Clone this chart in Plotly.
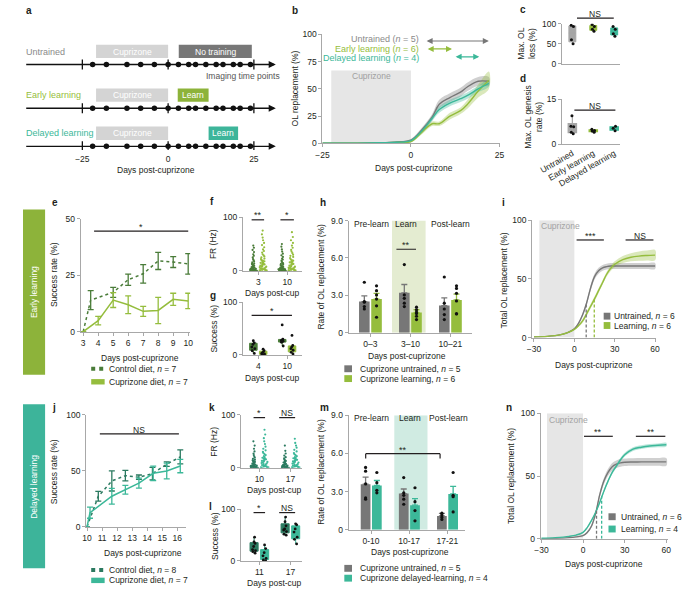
import plotly.graph_objects as go

# ======================= DATA =======================
# a: experimental timelines (days post-cuprizone)
A_GROUPS = ['Untrained', 'Early learning', 'Delayed learning']
A_IMAGING_DAYS = [-22, -18, -12, -8, -4, 0, 3, 6, 8, 11, 14, 16, 19, 21, 24]
A_CUPRIZONE = (-21, 0)
A_SECOND_PHASE = [(3.1, 24.4), (2.8, 11.8), (11.8, 20.4)]
A_SECOND_LABEL = ['No training', 'Learn', 'Learn']
A_TICKS = [-25, 0, 25]
A_MARK_DAYS = [-25, 0, 25]
A_TIMELINE = (-41.8, 31.4)

# b: OL replacement time course
B_DAYS = [-25, -22, -18, -12, -8, -4, 0, 3, 6, 8, 11, 14, 16, 19, 22]
B_UNTR = [0, 0, 0, 0.3, 0.6, 1.2, 3, 12, 24, 36, 42, 47, 52, 57, 57]
B_UNTR_SEM = [0, 0, 0, 0.2, 0.3, 0.5, 1, 2, 3, 4, 4, 4, 4, 4, 4]
B_EARLY = [0, 0, 0, 0.2, 0.5, 0.8, 1.5, 10, 18, 18, 25, 30, 36, 48, 58]
B_EARLY_SEM = [0, 0, 0, 0.2, 0.3, 0.4, 0.8, 2, 2, 2, 3, 3, 4, 6, 8]
B_DEL = [0, 0, 0, 0.3, 0.6, 1, 2.5, 11, 23, 31, 37, 41, 44, 50, 55]
B_DEL_SEM = [0, 0, 0, 0.2, 0.3, 0.4, 0.8, 2, 2.5, 3, 3, 3, 3, 3, 3]
B_CUP = (-22.5, 0, 67)
B_ARROWS = [(4, 22), (4.3, 11.6), (12.2, 19.3)]
B_ARROW_Y = [94, 86.7, 79.5]
B_LABELS = ['Untrained (<i>n</i> = 5)', 'Early learning (<i>n</i> = 6)', 'Delayed learning (<i>n</i> = 4)']

# c / d
CD_CATS = ['Untrained', 'Early learning', 'Delayed learning']
C_VALS = [[96, 93, 60, 50], [98, 93, 86, 81], [93, 86, 75, 69]]
D_VALS = [[9.5, 6.0, 5.8, 4.0, 3.5], [5.0, 4.6, 4.4, 4.0], [6.0, 5.3, 4.5]]

# e
E_CTRL_X = [3, 3.5, 5, 6, 7, 8, 9, 10]
E_CTRL_Y = [0, 14, 17.4, 23, 25.6, 31.3, 30.8, 30]
E_CTRL_ERR = [None, 4.2, 2.2, 2.5, 4.1, 3.8, 2.4, 4.5]
E_CUP_X = [3, 4, 5, 6, 7, 8, 9, 10]
E_CUP_Y = [0, 4.9, 14, 11.9, 9, 9.4, 14.3, 13.6]
E_CUP_ERR = [None, 1.9, 3.3, 3.9, 2.2, 5.8, 2.7, 3.4]

# f: firing rates (Hz)
F_CATS = ['3', '10']
F_CTRL = [
    [0, 0, 0, 0, 1, 1, 1, 1, 2, 2, 2, 2, 3, 3, 3, 4, 4, 4, 5, 5, 6, 6, 7, 7, 8, 9, 10, 11, 12, 13, 14, 16, 18, 20, 22, 25, 28, 31, 35, 39, 43, 47],
    [0, 0, 0, 0, 1, 1, 1, 1, 2, 2, 2, 2, 3, 3, 3, 3, 4, 4, 4, 5, 5, 5, 6, 6, 7, 7, 8, 9, 10, 11, 12, 13, 14, 15, 17, 19, 21, 23, 26, 29, 32, 36, 40, 45, 50]]
F_CUP = [
    [0, 0, 1, 1, 2, 2, 3, 3, 4, 4, 5, 5, 6, 7, 8, 8, 9, 10, 11, 12, 12, 13, 14, 15, 16, 17, 18, 19, 20, 22, 23, 25, 27, 29, 31, 34, 37, 40, 44, 48, 52, 57, 62, 68, 75],
    [0, 0, 1, 1, 2, 2, 3, 3, 4, 4, 5, 5, 6, 6, 7, 8, 9, 10, 11, 12, 13, 14, 15, 16, 17, 18, 19, 20, 22, 24, 26, 28, 30, 33, 36, 39, 43, 47, 52, 57, 63, 72]]

# g: success (%)
G_CATS = ['4', '10']
G_CTRL = [[27, 23, 20, 15, 12, 8, 3], [57, 30, 28, 27, 26, 24, 17]]
G_CUP = [[11, 8, 5, 3, 2, 1, 0], [37, 18, 15, 12, 9, 5, 2]]

# h
H_CATS = ['0–3', '3–10', '10–21']
H_UNTR = [2.5, 3.2, 2.18]
H_UNTR_SEM = [0.45, 0.67, 0.62]
H_LEARN = [2.7, 1.63, 2.63]
H_LEARN_SEM = [0.45, 0.21, 0.47]
H_UNTR_DOTS = [[4.05, 2.5, 2.45, 2.1, 1.9], [5.47, 3.03, 2.76, 2.37, 2.1], [4.47, 2.37, 1.9, 1.45, 1.05]]
H_LEARN_DOTS = [[3.76, 3.37, 3.03, 2.7, 2.16, 1.24], [2.05, 1.84, 1.66, 1.53, 1.32, 1.05], [3.76, 3.55, 3.16, 2.55, 1.53, 1.5]]
H_PHASES = ['Pre-learn', 'Learn', 'Post-learn']

# i
I_DAYS = [-30, -20, -10, -5, 0, 3, 6, 9, 12, 15, 18, 21, 24, 27, 30, 36, 42, 48, 54, 60]
I_UNTR = [0.5, 1, 2.5, 4.2, 7.5, 12, 19, 29, 42, 52, 57, 59.5, 60.5, 61, 61, 61, 61, 61, 61, 61]
I_UNTR_SEM = [0, 0, 0.2, 0.3, 0.5, 1, 1.5, 2, 2.5, 2.5, 2.5, 2.5, 2.5, 2.5, 2.5, 2.5, 2.5, 2.5, 2.5, 2.5]
I_LEARN = [0.5, 1, 2.5, 4.2, 7, 10, 14, 20, 26.5, 33, 40, 47, 54, 59, 62.5, 66.5, 68.5, 69.5, 70, 70.3]
I_LEARN_SEM = [0, 0, 0.2, 0.3, 0.5, 1, 1.5, 2, 2, 2, 2, 2, 2, 2.2, 2.5, 3, 3.5, 4, 4.2, 4.4]
I_HALF = [(8.8, 28), (14.8, 33.5)]

# j
J_CTRL_X = [10, 10.75, 11.65, 12.55, 13.45, 14.35, 15.3, 16.2]
J_CTRL_Y = [0, 27.3, 41, 45.7, 44.3, 47.5, 56, 62.5]
J_CTRL_ERR = [None, 4.4, 9, 4.7, 2, 5.6, 2, 6.3]
J_CUP_X = [10, 10.2, 11.65, 12.55, 13.45, 14.4, 15.3, 16.2]
J_CUP_Y = [0, 12.6, 27.3, 33.1, 39, 47.8, 49.9, 54.3]
J_CUP_ERR = [None, 5, 7, 4, 4.5, 6.5, 7, 6]

# k
K_CATS = ['10', '17']
K_CTRL = [
    [0, 0, 0, 0, 1, 1, 1, 1, 2, 2, 2, 2, 3, 3, 3, 4, 4, 4, 5, 5, 6, 6, 7, 8, 9, 10, 11, 12, 13, 14, 15, 17, 19, 21, 24, 27, 31, 36, 42, 50],
    [0, 0, 0, 0, 1, 1, 1, 1, 2, 2, 2, 3, 3, 3, 4, 4, 5, 5, 6, 6, 7, 8, 9, 10, 11, 12, 13, 14, 16, 18, 20, 23, 27, 32, 42]]
K_CUP = [
    [0, 0, 1, 1, 2, 2, 3, 3, 4, 5, 6, 7, 8, 9, 10, 11, 12, 13, 14, 15, 16, 17, 18, 19, 20, 22, 24, 26, 28, 30, 33, 36, 40, 45, 50, 56, 63, 72],
    [0, 0, 1, 1, 2, 2, 3, 3, 4, 4, 5, 6, 7, 8, 9, 10, 11, 12, 13, 14, 15, 16, 17, 18, 19, 20, 22, 24, 26, 28, 31, 34, 38, 42, 47, 55]]

# l
L_CATS = ['11', '17']
L_CTRL = [[46, 37, 34, 28, 22, 20, 18, 15], [85, 76, 68, 62, 60, 57, 52, 50]]
L_CUP = [[31, 24, 16, 10, 5, 2, 0], [72, 70, 62, 56, 46, 42, 33]]

# m
M_CATS = ['0-10', '10-17', '17-21']
M_UNTR = [3.58, 2.84, 1.08]
M_UNTR_SEM = [0.55, 0.36, 0.21]
M_LEARN = [3.48, 1.93, 2.81]
M_LEARN_SEM = [0.39, 0.52, 0.59]
M_UNTR_DOTS = [[4.9, 4.6, 3.6, 2.5, 2.4], [4.1, 2.9, 2.7, 2.4, 2.0], [1.3, 1.25, 1.1, 0.95, 0.8]]
M_LEARN_DOTS = [[4.5, 3.7, 3.1, 2.9], [3.3, 2.2, 1.5, 0.7], [4.5, 2.7, 2.6, 1.4]]

# n
N_DAYS = [-30, -20, -10, -5, 0, 3, 6, 9, 12, 15, 18, 21, 24, 27, 30, 36, 42, 48, 54, 60]
N_UNTR = [0.2, 0.4, 1, 1.6, 2.6, 5, 10, 20, 35, 46, 53, 57.5, 59.5, 60.5, 61, 61.2, 61.3, 61.3, 61.3, 61.3]
N_UNTR_SEM = [0, 0, 0.1, 0.2, 0.4, 0.8, 1.2, 1.8, 2.2, 2.5, 2.8, 3, 3, 3, 3, 3, 3, 3, 3, 3]
N_LEARN = [0.5, 1, 2, 3, 5.2, 9, 14.5, 21, 29, 38, 46, 53, 58, 63, 67, 71.5, 73, 74, 74.5, 75]
N_LEARN_SEM = [0, 0, 0.1, 0.2, 0.4, 0.6, 0.8, 1, 1.2, 1.3, 1.4, 1.5, 1.5, 1.5, 1.5, 1.5, 1.5, 1.5, 1.5, 1.5]
N_HALF = [(9.7, 23.5), (13.4, 34)]

# ======================= STYLE =======================
W, H = 685, 593
FONT = 'Liberation Sans, Arial, Helvetica, sans-serif'
TXT = '#231f20'
AX = '#a8a8a8'
GRAY = '#777777'
GRAY_LBL = '#8a8a8a'
LG = '#95bd3d'
DG = '#4a7c39'
TEAL = '#3cb899'
DTEAL = '#2b7a60'
CUPBOX = '#d4d4d4'
CUPSHADE = '#e6e6e6'
FS = 8.5
SHORT_DASH = '3px,2px'


def rgba(hexc, a):
    h = hexc.lstrip('#')
    return 'rgba(%d,%d,%d,%.2f)' % (int(h[0:2], 16), int(h[2:4], 16), int(h[4:6], 16), a)


fig = go.Figure()
shapes, annos, axes = [], [], {}


def xid(n):
    return 'x' if n == 1 else 'x%d' % n


def yid(n):
    return 'y' if n == 1 else 'y%d' % n


def add_axes(n, xpx, ypx, xr, yr, xopt=None, yopt=None):
    base = dict(showline=True, linecolor=AX, linewidth=1, ticks='outside', ticklen=3, tickwidth=1,
                tickcolor=AX, tickfont=dict(size=FS, color=TXT, family=FONT), showgrid=False,
                zeroline=False, fixedrange=True, ticklabelstandoff=0)
    xa = dict(base, domain=[xpx[0] / W, xpx[1] / W], range=xr, anchor=yid(n))
    ya = dict(base, domain=[1 - ypx[1] / H, 1 - ypx[0] / H], range=yr, anchor=xid(n))
    xa.update(xopt or {})
    ya.update(yopt or {})
    axes['xaxis' if n == 1 else 'xaxis%d' % n] = xa
    axes['yaxis' if n == 1 else 'yaxis%d' % n] = ya


def txt(px, py, s, size=FS, color=TXT, xanchor='center', yanchor='middle', angle=0, bold=False):
    if bold:
        s = '<b>%s</b>' % s
    annos.append(dict(x=px / W, y=1 - py / H, xref='paper', yref='paper', text=s, showarrow=False,
                      font=dict(size=size, color=color, family=FONT), xanchor=xanchor,
                      yanchor=yanchor, textangle=angle, borderpad=0))


def dtxt(n, x, y, s, size=FS, color=TXT, xanchor='center', yanchor='middle'):
    annos.append(dict(x=x, y=y, xref=xid(n), yref=yid(n), text=s, showarrow=False,
                      font=dict(size=size, color=color, family=FONT), xanchor=xanchor,
                      yanchor=yanchor, borderpad=0))


def hline(x0, x1, y, color=TXT, width=1.2):
    shapes.append(dict(type='line', xref='paper', yref='paper', x0=x0 / W, x1=x1 / W,
                       y0=1 - y / H, y1=1 - y / H, line=dict(color=color, width=width)))


def rect(x0, x1, y0, y1, color):
    shapes.append(dict(type='rect', xref='paper', yref='paper', x0=x0 / W, x1=x1 / W,
                       y0=1 - y1 / H, y1=1 - y0 / H, fillcolor=color, line=dict(width=0)))


def drect(n, x0, x1, y0, y1, color, layer='below'):
    shapes.append(dict(type='rect', xref=xid(n), yref=yid(n), x0=x0, x1=x1, y0=y0, y1=y1,
                       fillcolor=color, line=dict(width=0), layer=layer))


def dline(n, x0, x1, y0, y1, color, width=1.2, dash='solid'):
    shapes.append(dict(type='line', xref=xid(n), yref=yid(n), x0=x0, x1=x1, y0=y0, y1=y1,
                       line=dict(color=color, width=width, dash=dash)))


def sig(x0, x1, y, label, size=9):
    hline(x0, x1, y)
    txt((x0 + x1) / 2, y - 4.5, label, size=size)


def band(n, xs, mid, err, color, shape='spline'):
    up = [m + e for m, e in zip(mid, err)]
    lo = [m - e for m, e in zip(mid, err)]
    fig.add_trace(go.Scatter(x=list(xs) + list(xs)[::-1], y=up + lo[::-1], fill='toself',
                             fillcolor=color, mode='lines', line=dict(width=0, shape=shape),
                             xaxis=xid(n), yaxis=yid(n), hoverinfo='skip'))


def line(n, xs, ys, color, width=1.4, dash='solid', shape='spline'):
    fig.add_trace(go.Scatter(x=xs, y=ys, mode='lines', line=dict(color=color, width=width, dash=dash, shape=shape),
                             xaxis=xid(n), yaxis=yid(n), hoverinfo='skip'))


# ======================= PANEL a =======================
A_ROWS = [60.5, 105, 143.7]
A_ROW_COLORS = [GRAY_LBL, LG, TEAL]
A_SECOND_COLORS = ['#777777', '#8db33a', '#3db59a']
add_axes(1, (0, 265), (0, 147.5), [-42.3, 31.9], [147.5, 0],
         xopt=dict(showline=False, ticks='', tickvals=A_TICKS, ticklabelstandoff=2), yopt=dict(visible=False))
for r, (grp, ry) in enumerate(zip(A_GROUPS, A_ROWS)):
    annos.append(dict(x=A_TIMELINE[1], y=ry, ax=A_TIMELINE[0], ay=ry, xref='x', yref='y', axref='x', ayref='y',
                      text='', showarrow=True, arrowhead=2, arrowsize=1.1, arrowwidth=1.3, arrowcolor='#111',
                      standoff=0))
    for d in A_MARK_DAYS:
        dline(1, d, d, ry - 5, ry + 5, '#111', width=1.3)
    fig.add_trace(go.Scatter(x=A_IMAGING_DAYS, y=[ry] * len(A_IMAGING_DAYS), mode='markers',
                             marker=dict(color='#111', size=5.5), xaxis='x', yaxis='y', hoverinfo='skip'))
    drect(1, A_CUPRIZONE[0], A_CUPRIZONE[1], ry - 20, ry - 6.5, CUPBOX, layer='above')
    dtxt(1, (A_CUPRIZONE[0] + A_CUPRIZONE[1]) / 2, ry - 13.2, 'Cuprizone', color='white')
    s0, s1 = A_SECOND_PHASE[r]
    drect(1, s0, s1, ry - 20, ry - 6.5, A_SECOND_COLORS[r], layer='above')
    dtxt(1, (s0 + s1) / 2, ry - 13.2, A_SECOND_LABEL[r], color='white')
    txt(2, ry - 7, grp, color=A_ROW_COLORS[r], xanchor='left', yanchor='bottom', size=9)
txt(189, 72, 'Imaging time points', color='#555555', xanchor='left')
txt(138, 168, 'Days post-cuprizone')
txt(2, 6, 'a', size=10, bold=True, xanchor='left')

# ======================= PANEL b =======================
add_axes(2, (311.7, 497), (30, 140.7), [-25, 25.27], [0, 100],
         xopt=dict(tickvals=[-25, 0, 25]), yopt=dict(tickvals=[0, 25, 50, 75, 100]))
drect(2, B_CUP[0], B_CUP[1], 0, B_CUP[2], CUPSHADE)
dtxt(2, (B_CUP[0] + B_CUP[1]) / 2, B_CUP[2] - 5, 'Cuprizone', color='#a0a0a0')
band(2, B_DAYS, B_UNTR, B_UNTR_SEM, rgba(GRAY, 0.35))
band(2, B_DAYS, B_EARLY, B_EARLY_SEM, rgba(LG, 0.35))
band(2, B_DAYS, B_DEL, B_DEL_SEM, rgba(TEAL, 0.35))
line(2, B_DAYS, B_UNTR, GRAY)
line(2, B_DAYS, B_EARLY, LG)
line(2, B_DAYS, B_DEL, TEAL)
for (a0, a1), ay, col in zip(B_ARROWS, B_ARROW_Y, [GRAY, LG, TEAL]):
    annos.append(dict(x=a1, y=ay, ax=a0, ay=ay, xref='x2', yref='y2', axref='x2', ayref='y2', text='',
                      showarrow=True, arrowhead=2, arrowside='end+start', arrowsize=1, arrowwidth=1.2,
                      arrowcolor=col, standoff=0, startstandoff=0))
for py, col, lab in zip([35, 45, 54.3], [GRAY_LBL, LG, TEAL], B_LABELS):
    txt(413, py, lab, color=col, xanchor='right', size=9)
txt(283, 85, 'OL replacement (%)', angle=-90)
txt(406.7, 166, 'Days post-cuprizone')
txt(279, 6, 'b', size=10, bold=True, xanchor='left')

# ======================= PANEL c / d =======================
CD_COLORS = ['#a6a6a6', LG, TEAL]
add_axes(3, (561, 622), (19, 60), [-0.5, 2.3], [0, 100],
         xopt=dict(showticklabels=False, ticks='', tickvals=[0, 1, 2]), yopt=dict(tickvals=[0, 50, 100]))
add_axes(4, (561, 622), (95.7, 141.7), [-0.5, 2.3], [0, 15],
         xopt=dict(tickvals=[0, 1, 2], ticktext=CD_CATS, tickangle=-30, ticks=''),
         yopt=dict(tickvals=[0, 15]))
for i, (vals, col) in enumerate(zip(C_VALS, CD_COLORS)):
    fig.add_trace(go.Box(y=vals, x=[i] * len(vals), xaxis='x3', yaxis='y3', width=0.33, fillcolor=col,
                         line=dict(color=col, width=1), boxpoints='all', jitter=0.4, pointpos=0,
                         whiskerwidth=0, marker=dict(color='#111', size=3), hoverinfo='skip'))
for i, (vals, col) in enumerate(zip(D_VALS, CD_COLORS)):
    fig.add_trace(go.Box(y=vals, x=[i] * len(vals), xaxis='x4', yaxis='y4', width=0.4, fillcolor=col,
                         line=dict(color=col, width=1.2), boxpoints='all', jitter=0.4, pointpos=0,
                         whiskerwidth=0, marker=dict(color='#111', size=3), hoverinfo='skip'))
sig(576.7, 615, 13.3, 'NS', size=FS)
sig(574, 616.7, 107, 'NS', size=FS)
txt(524.5, 39.5, 'Max. OL<br>loss (%)', angle=-90)
txt(530.5, 114, 'Max. OL genesis<br>rate (%)', angle=-90)
txt(516, 5, 'c', size=10, bold=True, xanchor='left')
txt(516, 75, 'd', size=10, bold=True, xanchor='left')

# ======================= PANEL e =======================
add_axes(5, (60, 174), (217.3, 332.3), [2.83, 10.13], [0, 50],
         xopt=dict(tickvals=list(range(3, 11))), yopt=dict(tickvals=[0, 25, 50]))
fig.add_trace(go.Scatter(x=E_CTRL_X, y=E_CTRL_Y, mode='lines', line=dict(color=DG, width=1.5, dash='dot'),
                         error_y=dict(type='data', array=E_CTRL_ERR, color=DG, thickness=1.3, width=3),
                         xaxis='x5', yaxis='y5', hoverinfo='skip'))
fig.add_trace(go.Scatter(x=E_CUP_X, y=E_CUP_Y, mode='lines', line=dict(color=LG, width=1.5),
                         error_y=dict(type='data', array=E_CUP_ERR, color=LG, thickness=1.3, width=3),
                         xaxis='x5', yaxis='y5', hoverinfo='skip'))
sig(74, 172, 230, '*')
txt(33, 274, 'Success rate (%)', angle=-90)
txt(122, 359, 'Days post-cuprizone')
shapes.append(dict(type='line', xref='paper', yref='paper', x0=71 / W, x1=85 / W, y0=1 - 370 / H, y1=1 - 370 / H,
                   line=dict(color=DG, width=4, dash='dot')))
rect(71, 85, 380.5, 386, LG)
txt(88, 370, 'Control diet, <i>n</i> = 7', xanchor='left')
txt(88, 383.3, 'Cuprizone diet, <i>n</i> = 7', xanchor='left')
txt(29, 200.5, 'e', size=10, bold=True, xanchor='left')

# side bands
rect(0, 23, 208, 376, '#8db33a')
txt(11.5, 292, 'Early learning', color='white', angle=-90)
rect(0, 23, 406, 573, '#3db49a')
txt(11.5, 490, 'Delayed learning', color='white', angle=-90)


# ======================= PANELS f / g / k / l =======================
def swarm(n, groups, color, off):
    for i, vals in enumerate(groups):
        fig.add_trace(go.Box(y=vals, x=[i + off] * len(vals), xaxis=xid(n), yaxis=yid(n), width=0.32,
                             fillcolor='rgba(0,0,0,0)', line=dict(color='rgba(0,0,0,0)', width=0.1),
                             boxpoints='all', jitter=1, pointpos=0, marker=dict(color=color, size=2.2),
                             hoverinfo='skip'))


def boxes(n, groups, color, off):
    for i, vals in enumerate(groups):
        fig.add_trace(go.Box(y=vals, x=[i + off] * len(vals), xaxis=xid(n), yaxis=yid(n), width=0.26,
                             fillcolor=color, line=dict(color=color, width=1), whiskerwidth=0,
                             boxpoints='all', jitter=0.5, pointpos=0, marker=dict(color='#111', size=2.8),
                             hoverinfo='skip'))


FG_X = [-0.53, 1.5]
add_axes(6, (229, 290), (215.7, 270.5), FG_X, [0, 100],
         xopt=dict(tickvals=[0, 1], ticktext=F_CATS), yopt=dict(tickvals=[0, 100]))
swarm(6, F_CTRL, DG, -0.17)
swarm(6, F_CUP, LG, 0.17)
sig(238, 251, 218.5, '**')
sig(268, 282, 218.5, '*')
txt(198, 243, 'FR (Hz)', angle=-90)
txt(260, 293, 'Days post-cup')
txt(194, 199.7, 'f', size=10, bold=True, xanchor='left')

add_axes(7, (229, 290), (302.3, 356), FG_X, [0, 100],
         xopt=dict(tickvals=[0, 1], ticktext=G_CATS), yopt=dict(tickvals=[0, 100]))
boxes(7, G_CTRL, DG, -0.17)
boxes(7, G_CUP, LG, 0.17)
sig(238, 280, 315.7, '*')
txt(199, 329, 'Success (%)', angle=-90)
txt(260, 379, 'Days post-cup')
txt(194, 295, 'g', size=10, bold=True, xanchor='left')

KL_X = [-0.59, 1.36]
add_axes(11, (227, 290), (417, 470.7), KL_X, [0, 100],
         xopt=dict(tickvals=[0, 1], ticktext=K_CATS), yopt=dict(tickvals=[0, 100]))
swarm(11, K_CTRL, DTEAL, -0.17)
swarm(11, K_CUP, TEAL, 0.17)
sig(240, 252, 419.7, '*')
sig(266.7, 283.3, 419.7, 'NS', size=FS)
txt(198, 444, 'FR (Hz)', angle=-90)
txt(262, 493.5, 'Days post-cup')
txt(193, 409, 'k', size=10, bold=True, xanchor='left')

add_axes(12, (227, 290), (513, 565.5), KL_X, [0, 100],
         xopt=dict(tickvals=[0, 1], ticktext=L_CATS), yopt=dict(tickvals=[0, 100]))
boxes(12, L_CTRL, DTEAL, -0.17)
boxes(12, L_CUP, TEAL, 0.17)
sig(240, 252, 516.3, '*')
sig(266.7, 283.3, 516.3, 'NS', size=FS)
txt(200, 540, 'Success (%)', angle=-90)
txt(262, 588, 'Days post-cup')
txt(193, 510, 'l', size=10, bold=True, xanchor='left')


# ======================= PANELS h / m =======================
def barpanel(n, means_a, sem_a, dots_a, means_b, sem_b, dots_b, col_b, off_a, off_b, bw):
    for means, sem, dots, col, off in [(means_a, sem_a, dots_a, GRAY, off_a), (means_b, sem_b, dots_b, col_b, off_b)]:
        fig.add_trace(go.Bar(x=[0, 1, 2], y=means, width=bw, offset=off, marker=dict(color=col, line=dict(width=0)),
                             error_y=dict(type='data', array=sem, arrayminus=[0] * len(sem), symmetric=False,
                                          color=col, thickness=1.3, width=3),
                             xaxis=xid(n), yaxis=yid(n), hoverinfo='skip'))
        xs, ys = [], []
        for g, dd in enumerate(dots):
            xs += [g + off + bw / 2] * len(dd)
            ys += dd
        fig.add_trace(go.Scatter(x=xs, y=ys, mode='markers', marker=dict(color='#111', size=3.2),
                                 xaxis=xid(n), yaxis=yid(n), hoverinfo='skip'))


add_axes(8, (339, 467), (219.3, 333.3), [-0.545, 2.53], [0, 9],
         xopt=dict(tickvals=[0, 1, 2], ticktext=H_CATS),
         yopt=dict(tickvals=[0, 3, 6, 9], ticktext=['0', '3.0', '6.0', '9.0']))
drect(8, 0.54, 1.38, 0, 9, '#e4ecd1')
barpanel(8, H_UNTR, H_UNTR_SEM, H_UNTR_DOTS, H_LEARN, H_LEARN_SEM, H_LEARN_DOTS, LG, -0.285, 0.02, 0.265)
for gx, lab in zip([0.03, 0.9, 2.0], H_PHASES):
    dtxt(8, gx, 8.75, lab)
dline(8, 0.65, 1.14, 6.7, 6.7, TXT)
dtxt(8, 0.895, 7.05, '**', size=9)
txt(310, 276.5, 'Rate of OL replacement (%)', angle=-90)
txt(400, 357, 'Days post-cuprizone')
rect(334.5, 342.5, 366.5, 373.5, GRAY)
rect(334.5, 342.5, 376.5, 383.5, LG)
txt(350, 370, 'Cuprizone untrained, <i>n</i> = 5', xanchor='left')
txt(350, 380, 'Cuprizone learning, <i>n</i> = 6', xanchor='left')
txt(308, 201, 'h', size=10, bold=True, xanchor='left')

add_axes(13, (339, 460), (417.3, 533.7), [-0.587, 2.46], [0, 9],
         xopt=dict(tickvals=[0, 1, 2], ticktext=M_CATS),
         yopt=dict(tickvals=[0, 3, 6, 9], ticktext=['0', '3.0', '6.0', '9.0']))
drect(13, 0.61, 1.48, 0, 9, '#d0ebe2')
barpanel(13, M_UNTR, M_UNTR_SEM, M_UNTR_DOTS, M_LEARN, M_LEARN_SEM, M_LEARN_DOTS, TEAL, -0.27, 0.025, 0.255)
for gx, lab in zip([0.01, 1.03, 2.04], H_PHASES):
    dtxt(13, gx, 8.77, lab)
dline(13, -0.14, 1.81, 5.98, 5.98, TXT)
dline(13, -0.14, -0.14, 5.98, 5.6, TXT)
dline(13, 1.81, 1.81, 5.98, 5.6, TXT)
dtxt(13, 0.83, 6.3, '**', size=9)
txt(310, 475, 'Rate of OL replacement (%)', angle=-90)
txt(403.3, 556.5, 'Days post-cuprizone')
rect(334.5, 342.5, 569.5, 576.5, GRAY)
rect(334.5, 342.5, 579.5, 586.5, TEAL)
txt(350, 573, 'Cuprizone untrained, <i>n</i> = 5', xanchor='left')
txt(350, 583, 'Cuprizone delayed-learning, <i>n</i> = 4', xanchor='left')
txt(308, 409, 'm', size=10, bold=True, xanchor='left')


# ======================= PANELS i / n =======================
def sigmoid_panel(n, days, untr, untr_sem, learn, learn_sem, col, half):
    drect(n, -26, 0, 0, 100, CUPSHADE)
    dtxt(n, -25.5, 95, 'Cuprizone', color='#a3a3a3', xanchor='left')
    band(n, days, untr, untr_sem, rgba(GRAY, 0.35))
    band(n, days, learn, learn_sem, rgba(col, 0.35))
    line(n, days, untr, GRAY, width=1.4)
    line(n, days, learn, col, width=1.4)
    for (hx, hy), c in zip(half, [GRAY, col]):
        dline(n, hx, hx, 0, hy, c, width=1.3, dash=SHORT_DASH)


add_axes(9, (530, 659), (219, 338.3), [-31.4, 60.7], [0, 100],
         xopt=dict(tickvals=[-30, 0, 30, 60]), yopt=dict(tickvals=[0, 50, 100]))
sigmoid_panel(9, I_DAYS, I_UNTR, I_UNTR_SEM, I_LEARN, I_LEARN_SEM, LG, I_HALF)
sig(576.3, 604.7, 239, '***')
sig(627.3, 656.3, 239, 'NS', size=FS)
rect(604.5, 611.5, 313, 320, GRAY)
rect(604.5, 611.5, 322.5, 329.5, LG)
txt(614, 316.5, 'Untrained, <i>n</i> = 6', xanchor='left')
txt(614, 326, 'Learning, <i>n</i> = 6', xanchor='left')
txt(501, 280, 'Total OL replacement (%)', angle=-90)
txt(594.7, 366, 'Days post-cuprizone')
txt(498, 201, 'i', size=10, bold=True, xanchor='left')

add_axes(14, (539, 671), (415.3, 543), [-30.5, 60.9], [0, 100],
         xopt=dict(tickvals=[-30, 0, 30, 60]), yopt=dict(tickvals=[0, 50, 100]))
sigmoid_panel(14, N_DAYS, N_UNTR, N_UNTR_SEM, N_LEARN, N_LEARN_SEM, TEAL, N_HALF)
sig(584, 614, 438.7, '**')
sig(638, 668.7, 438.7, '**')
rect(609.5, 617, 517, 524, GRAY)
rect(609.5, 617, 529.5, 536.5, TEAL)
txt(622, 520.7, 'Untrained, <i>n</i> = 6', xanchor='left')
txt(622, 533, 'Learning, <i>n</i> = 4', xanchor='left')
txt(508, 479, 'Total OL replacement (%)', angle=-90)
txt(604.7, 568.5, 'Days post-cuprizone')
txt(502, 409, 'n', size=10, bold=True, xanchor='left')

# ======================= PANEL j =======================
add_axes(10, (65.7, 170), (417, 530.7), [9.94, 16.6], [0, 100],
         xopt=dict(tickvals=list(range(10, 17))), yopt=dict(tickvals=[0, 50, 100]))
fig.add_trace(go.Scatter(x=J_CTRL_X, y=J_CTRL_Y, mode='lines', line=dict(color=DTEAL, width=1.5, dash='dot'),
                         error_y=dict(type='data', array=J_CTRL_ERR, color=DTEAL, thickness=1.3, width=3),
                         xaxis='x10', yaxis='y10', hoverinfo='skip'))
fig.add_trace(go.Scatter(x=J_CUP_X, y=J_CUP_Y, mode='lines', line=dict(color=TEAL, width=1.5),
                         error_y=dict(type='data', array=J_CUP_ERR, color=TEAL, thickness=1.3, width=3),
                         xaxis='x10', yaxis='y10', hoverinfo='skip'))
sig(80, 162.3, 436.3, 'NS', size=FS)
txt(33, 474.5, 'Success rate (%)', angle=-90)
txt(125, 557.5, 'Days post-cuprizone')
shapes.append(dict(type='line', xref='paper', yref='paper', x0=71 / W, x1=85 / W, y0=1 - 574.7 / H,
                   y1=1 - 574.7 / H, line=dict(color=DTEAL, width=4, dash='dot')))
rect(71, 85, 582.5, 588, TEAL)
txt(88, 574.7, 'Control diet, <i>n</i> = 8', xanchor='left')
txt(88, 585.3, 'Cuprizone diet, <i>n</i> = 7', xanchor='left')
txt(29, 409, 'j', size=10, bold=True, xanchor='left')

fig.update_layout(width=W, height=H, margin=dict(l=0, r=0, t=0, b=0), paper_bgcolor='white',
                  plot_bgcolor='rgba(0,0,0,0)', showlegend=False,
                  font=dict(family=FONT, size=FS, color=TXT), shapes=shapes, annotations=annos, **axes)
fig.write_html('out.html')
